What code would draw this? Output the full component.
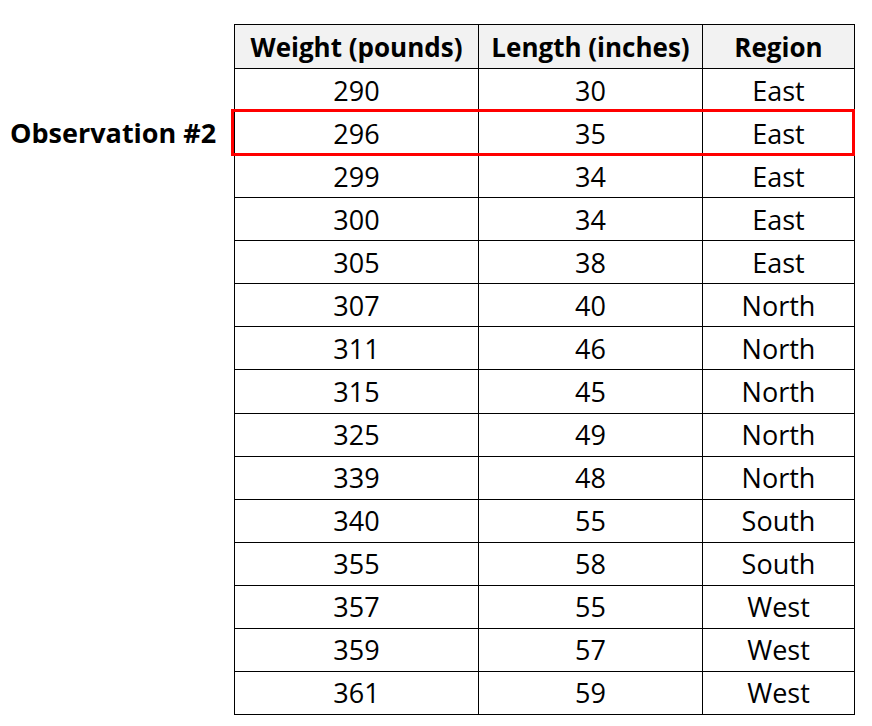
import React from "react";

const headers = ["Weight (pounds)", "Length (inches)", "Region"];
const weights = [290, 296, 299, 300, 305, 307, 311, 315, 325, 339, 340, 355, 357, 359, 361];
const lengths = [30, 35, 34, 34, 38, 40, 46, 45, 49, 48, 55, 58, 55, 57, 59];
const regions = ["East", "East", "East", "East", "East", "North", "North", "North", "North", "North", "South", "South", "West", "West", "West"];
const highlightIndex = 1;
const highlightLabel = "Observation #2";

const colW = [244, 224, 152];
const left = 234;
const top = 24;
const headerH = 44;
const rowH = 43.07;
const font = "'Open Sans', 'Noto Sans', sans-serif";

export default function App() {
  const cell = (w: number, bold = false, bg = "#fff"): React.CSSProperties => ({
    width: w,
    height: rowH,
    border: "1px solid #000",
    textAlign: "center",
    verticalAlign: "middle",
    fontWeight: bold ? 700 : 400,
    background: bg,
    padding: 0,
    boxSizing: "border-box",
  });
  return (
    <div style={{ position: "fixed", left: 0, top: 0, width: 872, height: 726, background: "#fff", fontFamily: font, fontSize: 27, color: "#000" }}>
      <table style={{ position: "absolute", left, top, borderCollapse: "collapse", tableLayout: "fixed", fontSize: 27 }}>
        <thead>
          <tr style={{ height: headerH }}>
            {headers.map((h, i) => (
              <th key={h} style={{ ...cell(colW[i], true, "#f2f2f2"), height: headerH, whiteSpace: "nowrap", fontSize: 26 }}>{h}</th>
            ))}
          </tr>
        </thead>
        <tbody>
          {weights.map((w, i) => (
            <tr key={i} style={{ height: rowH }}>
              <td style={cell(colW[0])}>{w}</td>
              <td style={cell(colW[1])}>{lengths[i]}</td>
              <td style={cell(colW[2])}>{regions[i]}</td>
            </tr>
          ))}
        </tbody>
      </table>
      <div style={{ position: "absolute", left: 231, top: top + headerH + highlightIndex * rowH - 2, width: 624, height: rowH + 4, border: "3px solid #ff0000", boxSizing: "border-box" }} />
      <div style={{ position: "absolute", left: 10, top: top + headerH + highlightIndex * rowH, height: rowH, lineHeight: rowH + "px", fontWeight: 700, fontSize: 27, whiteSpace: "nowrap" }}>{highlightLabel}</div>
    </div>
  );
}
